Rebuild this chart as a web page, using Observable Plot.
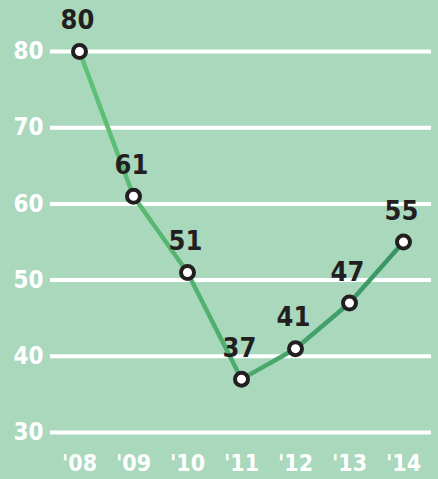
<!DOCTYPE html>
<html>
<head>
<meta charset="utf-8">
<script src="https://cdn.jsdelivr.net/npm/d3@7"></script>
<script src="https://cdn.jsdelivr.net/npm/@observablehq/plot@0.6"></script>
<style>
  html, body { margin: 0; padding: 0; background: #a9d8bd; }
  #chart svg { display: block; }
</style>
</head>
<body>
<div id="chart"></div>
<script>
const years = ["'08", "'09", "'10", "'11", "'12", "'13", "'14"];
const values = [80, 61, 51, 37, 41, 47, 55];
const yTicks = [30, 40, 50, 60, 70, 80];

const data = years.map((year, i) => ({year, value: values[i]}));
const font = "'Liberation Sans Narrow', 'DejaVu Sans Condensed', 'Liberation Sans', sans-serif";

const chart = Plot.plot({
  width: 438,
  height: 479,
  marginLeft: 50,
  marginRight: 7,
  marginTop: 51,
  marginBottom: 47,
  style: {background: "#a9d8bd", fontFamily: font},
  x: {type: "point", domain: years, padding: 0.5},
  y: {domain: [30, 80]},
  marks: [
    Plot.ruleY(yTicks, {stroke: "white", strokeWidth: 4}),
    Plot.axisY(yTicks, {tickSize: 0, tickPadding: 7, fontSize: 24, fontWeight: "bold", color: "white", label: null}),
    Plot.axisX({tickSize: 0, tickPadding: 22, fontSize: 23, fontWeight: "bold", color: "white", label: null}),
    Plot.line(data, {x: "year", y: "value", stroke: "url(#lineGrad)", strokeWidth: 4.5}),
    Plot.dot(data, {x: "year", y: "value", r: 6.5, fill: "white", stroke: "#231f20", strokeWidth: 4}),
    Plot.text(data, {x: "year", y: "value", text: d => String(d.value), dy: -31, dx: -2, fontSize: 27, fontWeight: "bold", fill: "#231f20"})
  ]
});

const svg = d3.select(chart);
const defs = svg.insert("defs", ":first-child");
const grad = defs.append("linearGradient").attr("id", "lineGrad").attr("x1", "0").attr("x2", "1").attr("y1", "0").attr("y2", "0");
grad.append("stop").attr("offset", "0%").attr("stop-color", "#60c276");
grad.append("stop").attr("offset", "100%").attr("stop-color", "#399464");

document.getElementById("chart").appendChild(chart);
</script>
</body>
</html>
